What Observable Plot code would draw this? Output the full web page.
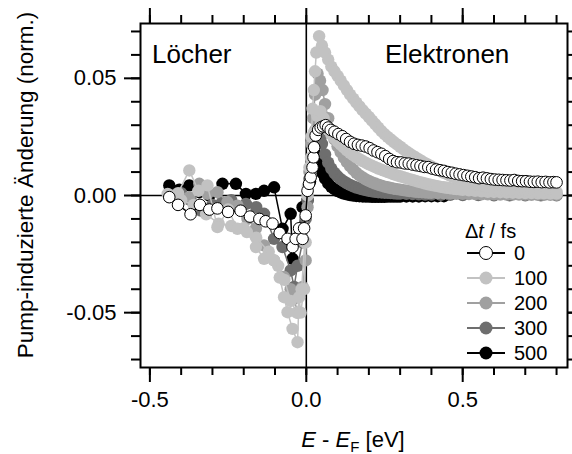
<!DOCTYPE html>
<html>
<head>
<meta charset="utf-8">
<script src="https://cdn.jsdelivr.net/npm/d3@7"></script>
<script src="https://cdn.jsdelivr.net/npm/@observablehq/plot@0.6"></script>
<style>
  html, body { margin: 0; padding: 0; background: white; }
  svg { display: block; }
</style>
</head>
<body>
<div id="chart"></div>
<script>
// ---- data ----
// legend series
const seriesNames = ["0", "100", "200", "300", "500"];
const seriesFill = ["white", "#c2c2c2", "#a0a0a0", "#6e6e6e", "black"];
const seriesLine = ["black", "#c2c2c2", "#a0a0a0", "#6e6e6e", "black"];

const e0 = [-0.438,-0.41,-0.37,-0.34,-0.31,-0.284,-0.25,-0.21,-0.18,-0.15,-0.13,-0.108,-0.085,-0.06,-0.044,-0.034,-0.023,-0.012,-0.007,-0.002,
  0.004,0.009,0.014,0.02,0.023,0.025,0.03,0.038,0.046,0.054,0.062,0.07,0.078,
  0.09,0.1025,0.115,0.1275,0.14,0.1525,0.165,0.1775,0.19,0.2025,0.215,0.2275,0.24,0.2525,0.265,0.2775,0.29,0.3025,0.315,0.3275,0.34,0.3525,0.365,0.3775,0.39,0.4025,0.415,0.4275,0.44,0.4525,0.465,0.4775,0.49,0.5025,0.515,0.5275,0.54,0.5525,0.565,0.5775,0.59,0.6025,0.615,0.6275,0.64,0.6525,0.665,0.6775,0.69,0.7025,0.715,0.7275,0.74,0.7525,0.765,0.7775,0.79,0.80];
const v0 = [-0.0007,-0.004,-0.008,-0.004,-0.006,-0.0055,-0.007,-0.0065,-0.009,-0.010,-0.011,-0.012,-0.016,-0.0185,-0.022,-0.0185,-0.014,-0.0185,-0.014,-0.0085,
  0.002,0.005,0.0078,0.012,0.0163,0.0206,0.0256,0.028,0.029,0.0295,0.030,0.029,0.028,
  0.0272,0.0262,0.0253,0.0241,0.0229,0.0221,0.0216,0.0213,0.0209,0.0202,0.0192,0.0185,0.0178,0.0168,0.0156,0.0147,0.0142,0.0141,0.0137,0.0136,0.0132,0.0129,0.0126,0.0122,0.0121,0.0115,0.0111,0.0108,0.0105,0.0100,0.0097,0.0093,0.0090,0.0087,0.0084,0.0081,0.0078,0.0074,0.0076,0.0073,0.0070,0.0068,0.0067,0.0066,0.0065,0.0064,0.0066,0.0062,0.0061,0.0061,0.0059,0.0058,0.0059,0.0057,0.0058,0.0056,0.0057,0.0056];

const e100 = [-0.443,-0.41,-0.374,-0.345,-0.316,-0.284,-0.25,-0.22,-0.19,-0.161,-0.135,-0.103,-0.085,-0.071,-0.06,-0.044,-0.028,-0.023,-0.018,-0.007,-0.002,
  0.004,0.01,0.016,0.02,0.024,0.028,0.032,0.041,0.05,0.06,0.07,
  0.08,0.09,0.10,0.11,0.12,0.13,0.14,0.15,0.16,0.17,0.18,0.19,0.20,0.21,0.22,0.23,0.24,0.25,0.26,0.27,0.28,0.29,0.30,0.31,0.32,0.33,0.34,0.35,0.36,0.37,0.38,0.39,0.40,0.41,0.42,0.43,0.44,0.45,0.46,0.47,0.48,0.49,0.50,0.51,0.52,0.53,0.54,0.55,0.56,0.57,0.58,0.59,0.60,0.61,0.62,0.63,0.64,0.65,0.66,0.67,0.68,0.69,0.70,0.71,0.72,0.73,0.74,0.75,0.76,0.77,0.78,0.79,0.80];
const v100 = [0.0007,0.001,0.0107,0.002,0.0043,-0.0135,-0.006,-0.0142,-0.0156,-0.022,-0.027,-0.0277,-0.035,-0.0434,-0.0498,-0.0569,-0.0626,-0.0434,-0.050,-0.040,-0.020,
  0.000,0.012,0.025,0.037,0.045,0.053,0.061,0.068,0.064,0.061,0.058,
  0.055,0.053,0.051,0.049,0.047,0.045,0.043,0.0413,0.0396,0.038,0.0364,0.0349,0.0335,0.032,0.0305,0.029,0.0275,0.0262,0.025,0.0239,0.0228,0.0218,0.0208,0.0198,0.0188,0.0179,0.017,0.0162,0.0154,0.0146,0.0138,0.0131,0.0124,0.0117,0.011,0.0103,0.0097,0.0091,0.0085,0.008,0.0075,0.007,0.0065,0.0061,0.0057,0.0053,0.0049,0.0046,0.0043,0.004,0.0037,0.0035,0.0033,0.0031,0.0029,0.0028,0.0026,0.0025,0.0024,0.0023,0.0022,0.0021,0.002,0.0019,0.0019,0.0018,0.0018,0.0017,0.0017,0.0016,0.0016,0.0015,0.0015];

const e200 = [-0.438,-0.406,-0.374,-0.342,-0.316,-0.284,-0.252,-0.22,-0.188,-0.161,-0.135,-0.103,-0.071,-0.05,-0.039,-0.028,-0.012,-0.002,
  0.004,0.01,0.016,0.022,0.028,0.036,0.044,0.052,
  0.06,0.07,0.08,0.09,0.10,0.11,0.12,0.13,0.14,0.15,0.16,0.17,0.18,0.19,0.20,0.21,0.22,0.23,0.24,0.25,0.26,0.27,0.28,0.29,0.30,0.31,0.32,0.33,0.34,0.35,0.36,0.37,0.38,0.39,0.40,0.42,0.44,0.46,0.48,0.50,0.52,0.54,0.56,0.58,0.60,0.62,0.64,0.66,0.68,0.70,0.72,0.74,0.76,0.78,0.80];
const v200 = [-0.0007,-0.0007,-0.0007,0.005,0.0007,0.0014,-0.0028,-0.0043,-0.010,-0.014,-0.0213,-0.0277,-0.0348,-0.040,-0.044,-0.050,-0.039,-0.0277,
  -0.005,0.010,0.022,0.033,0.043,0.052,0.049,0.045,
  0.039,0.033,0.028,0.024,0.021,0.0185,0.0162,0.0142,0.0125,0.011,0.0097,0.0086,0.0077,0.0069,0.0062,0.0056,0.0051,0.0046,0.0042,0.0038,0.0035,0.0032,0.0029,0.0027,0.0025,0.0023,0.0021,0.0019,0.0018,0.0016,0.0015,0.0014,0.0013,0.0012,0.0011,0.001,0.0009,0.0008,0.0007,0.0007,0.0006,0.0006,0.0005,0.0005,0.0005,0.0004,0.0004,0.0004,0.0004,0.0004,0.0003,0.0003,0.0003,0.0003,0.0003];

const e300 = [-0.433,-0.40,-0.37,-0.337,-0.30,-0.27,-0.24,-0.193,-0.16,-0.135,-0.103,-0.076,-0.05,-0.039,-0.028,-0.012,-0.002,
  0.004,0.01,0.016,0.022,0.03,0.038,0.046,
  0.05,0.06,0.07,0.08,0.09,0.10,0.11,0.12,0.13,0.14,0.15,0.16,0.17,0.18,0.19,0.20,0.21,0.22,0.23,0.24,0.25,0.26,0.27,0.28,0.29,0.30,0.32,0.34,0.36,0.38,0.40,0.43,0.46,0.50,0.55,0.60,0.65,0.70,0.75,0.80];
const v300 = [0.0,0.001,-0.002,-0.0064,-0.004,-0.003,-0.002,-0.0036,-0.005,-0.0078,-0.0185,-0.022,-0.032,-0.039,-0.030,-0.020,-0.010,
  -0.002,0.007,0.016,0.023,0.028,0.029,0.025,
  0.022,0.0175,0.014,0.0115,0.0096,0.0082,0.007,0.006,0.0052,0.0045,0.0039,0.0034,0.003,0.0026,0.0023,0.002,0.0018,0.0016,0.0014,0.0013,0.0012,0.0011,0.001,0.0009,0.0008,0.0008,0.0007,0.0006,0.0005,0.0004,0.0004,0.0003,0.0003,0.0002,0.0002,0.0001,0.0001,0.0001,0.0001,0.0001];

const e500 = [-0.438,-0.406,-0.374,-0.342,-0.31,-0.268,-0.225,-0.193,-0.161,-0.135,-0.103,-0.076,-0.05,-0.044,-0.028,-0.012,-0.002,
  0.004,0.012,0.02,0.028,0.036,0.044,0.052,
  0.06,0.07,0.08,0.09,0.10,0.11,0.12,0.13,0.14,0.15,0.16,0.17,0.18,0.19,0.20,0.21,0.22,0.23,0.24,0.25,0.26,0.27,0.28,0.29,0.30,0.32,0.34,0.36,0.38,0.40,0.42,0.44];
const v500 = [0.0043,0.0025,0.0043,0.0014,0.0,0.005,0.005,0.0007,0.0007,0.002,0.0035,-0.0142,-0.0078,-0.027,-0.018,-0.005,-0.0043,
  -0.002,0.006,0.013,0.018,0.0165,0.0125,0.0095,
  0.0072,0.0052,0.0037,0.0027,0.0019,0.0013,0.0008,0.0005,0.0002,0.0,-0.0002,-0.0003,-0.0004,-0.0005,-0.0005,-0.0006,-0.0006,-0.0006,-0.0006,-0.0006,-0.0005,-0.0005,-0.0005,-0.0005,-0.0005,-0.0004,-0.0004,-0.0004,-0.0003,-0.0003,-0.0003,-0.0003];

// a further light-grey curve visible in the plot but not listed in the legend
const eExtra = [-0.44,-0.40,-0.36,-0.32,-0.28,-0.24,-0.20,-0.16,-0.12,-0.09,-0.07,-0.05,-0.03,-0.015,-0.005,
  0.005,0.015,0.025,0.035,0.045,0.055,
  0.06,0.07,0.08,0.09,0.10,0.11,0.12,0.13,0.14,0.15,0.16,0.17,0.18,0.19,0.20,0.21,0.22,0.23,0.24,0.25,0.26,0.27,0.28,0.29,0.30,0.31,0.32,0.33,0.34,0.35,0.36,0.37,0.38,0.39,0.40,0.41,0.42,0.43,0.44,0.45,0.46,0.47,0.48,0.49,0.50,0.52,0.54,0.56,0.58,0.60,0.62,0.64,0.66,0.68,0.70,0.72,0.74,0.76,0.78,0.80];
const vExtra = [0.0,-0.002,-0.004,-0.008,-0.012,-0.013,-0.014,-0.018,-0.024,-0.030,-0.036,-0.045,-0.050,-0.040,-0.020,
  0.004,0.016,0.027,0.034,0.036,0.033,
  0.030,0.028,0.026,0.0245,0.023,0.0217,0.0205,0.0193,0.0182,0.0172,0.0163,0.0155,0.0147,0.014,0.0133,0.0127,0.0121,0.0115,0.011,0.0105,0.010,0.0095,0.009,0.0086,0.0082,0.0078,0.0074,0.007,0.0066,0.0062,0.0058,0.0055,0.0051,0.0048,0.0045,0.0042,0.004,0.0037,0.0035,0.0033,0.0031,0.0029,0.0027,0.0026,0.0024,0.0022,0.002,0.0018,0.0016,0.0015,0.0014,0.0013,0.0012,0.0011,0.001,0.001,0.0009,0.0009,0.0008,0.0008];
const extraFill = "#c2c2c2";

const xMajorTicks = [-0.5, 0.0, 0.5];
const xMinorTicks = [-0.5,-0.4,-0.3,-0.2,-0.1,0.0,0.1,0.2,0.3,0.4,0.5,0.6,0.7,0.8];
const yMajorTicks = [-0.05, 0.00, 0.05];
const yMinorTicks = [-0.07,-0.06,-0.05,-0.04,-0.03,-0.02,-0.01,0.0,0.01,0.02,0.03,0.04,0.05,0.06,0.07];

// ---- build tables ----
const es = [e0, e100, e200, e300, e500];
const vs = [v0, v100, v200, v300, v500];
const tables = es.map((e, i) => e.map((x, j) => ({e: x, v: vs[i][j], s: seriesNames[i]})));
const extraTable = eExtra.map((x, j) => ({e: x, v: vExtra[j]}));

function seriesMarks(table, fill, line, isOpen) {
  return [
    Plot.line(table, {x: "e", y: "v", stroke: line, strokeWidth: 1.5}),
    Plot.dot(table, {x: "e", y: "v", r: isOpen ? 5.8 : 6.2, fill: fill,
      stroke: isOpen ? "black" : "none", strokeWidth: 1})
  ];
}

// drawing order: 500, 300, 200, extra, 100, 0 (0 on top)
const dataMarks = [
  ...seriesMarks(tables[4], seriesFill[4], seriesLine[4], false),
  ...seriesMarks(tables[3], seriesFill[3], seriesLine[3], false),
  ...seriesMarks(tables[2], seriesFill[2], seriesLine[2], false),
  ...seriesMarks(extraTable, extraFill, extraFill, false),
  ...seriesMarks(tables[1], seriesFill[1], seriesLine[1], false),
  ...seriesMarks(tables[0], seriesFill[0], seriesLine[0], true)
];

const font = "'Liberation Sans', Arial, Helvetica, sans-serif";

const chart = Plot.plot({
  width: 572,
  height: 454,
  marginLeft: 140,
  marginRight: 5,
  marginTop: 23,
  marginBottom: 87,
  style: {fontFamily: font, background: "white", color: "black"},
  x: {domain: [-0.53, 0.835]},
  y: {domain: [-0.0734, 0.0734]},
  marks: [
    Plot.ruleX([0], {stroke: "black", strokeWidth: 1.6}),
    Plot.ruleY([0], {stroke: "black", strokeWidth: 1.6}),
    ...dataMarks,
    Plot.frame({stroke: "black", strokeWidth: 2}),
    // bottom axis
    Plot.axisX(xMajorTicks, {anchor: "bottom", tickSize: 15, tickPadding: 9, strokeWidth: 2,
      tickFormat: d => d.toFixed(1), fontSize: 22, label: null}),
    Plot.axisX(xMinorTicks, {anchor: "bottom", tickSize: 8, strokeWidth: 2, text: null, label: null}),
    // top axis
    Plot.axisX(xMajorTicks, {anchor: "top", tickSize: 16, strokeWidth: 2, text: null, label: null}),
    Plot.axisX(xMinorTicks, {anchor: "top", tickSize: 9, strokeWidth: 2, text: null, label: null}),
    // left axis
    Plot.axisY(yMajorTicks, {anchor: "left", tickSize: 16, tickPadding: 8, strokeWidth: 2,
      tickFormat: d => d.toFixed(2), fontSize: 22, label: null}),
    Plot.axisY(yMinorTicks, {anchor: "left", tickSize: 9, strokeWidth: 2, text: null, label: null}),
    // right axis
    Plot.axisY(yMajorTicks, {anchor: "right", tickSize: 8, strokeWidth: 2, text: null, label: null}),
    Plot.axisY(yMinorTicks, {anchor: "right", tickSize: 6, strokeWidth: 2, text: null, label: null})
  ]
});

document.getElementById("chart").appendChild(chart);

// ---- texts and legend ----
const svg = d3.select(chart);
svg.append("text").attr("x", 152).attr("y", 63).attr("text-anchor", "start")
  .attr("font-size", 26).attr("font-family", font).attr("fill", "black").text("Löcher");
svg.append("text").attr("x", 385).attr("y", 63).attr("text-anchor", "start")
  .attr("font-size", 26).attr("font-family", font).attr("fill", "black").text("Elektronen");

// y label
svg.append("text")
  .attr("transform", "translate(27,185) rotate(-90)")
  .attr("text-anchor", "middle").attr("dominant-baseline", "middle")
  .attr("font-size", 22.5).attr("font-family", font).attr("fill", "black")
  .text("Pump-induzierte Änderung (norm.)");

// x label
const xl = svg.append("text")
  .attr("x", 353).attr("y", 447)
  .attr("text-anchor", "middle")
  .attr("font-size", 22).attr("font-family", font).attr("fill", "black");
xl.append("tspan").attr("font-style", "italic").text("E");
xl.append("tspan").text(" - ");
xl.append("tspan").attr("font-style", "italic").text("E");
xl.append("tspan").attr("font-size", 15).attr("dy", 5).text("F");
xl.append("tspan").attr("dy", -5).text(" [eV]");

// legend
const lg = svg.append("g").attr("font-family", font).attr("font-size", 20).attr("text-anchor", "start");
const lt = lg.append("text").attr("x", 465).attr("y", 238).attr("fill", "black");
lt.append("tspan").text("Δ");
lt.append("tspan").attr("font-style", "italic").text("t");
lt.append("tspan").text(" / fs");
seriesNames.forEach((name, i) => {
  const y = 253 + i * 25;
  lg.append("line").attr("x1", 467).attr("x2", 505).attr("y1", y).attr("y2", y)
    .attr("stroke", seriesLine[i]).attr("stroke-width", 2);
  lg.append("circle").attr("cx", 486).attr("cy", y).attr("r", 6.5)
    .attr("fill", seriesFill[i]).attr("stroke", i === 0 ? "black" : "none").attr("stroke-width", 1);
  lg.append("text").attr("x", 514).attr("y", y).attr("dominant-baseline", "central")
    .attr("fill", "black").text(name);
});
</script>
</body>
</html>
